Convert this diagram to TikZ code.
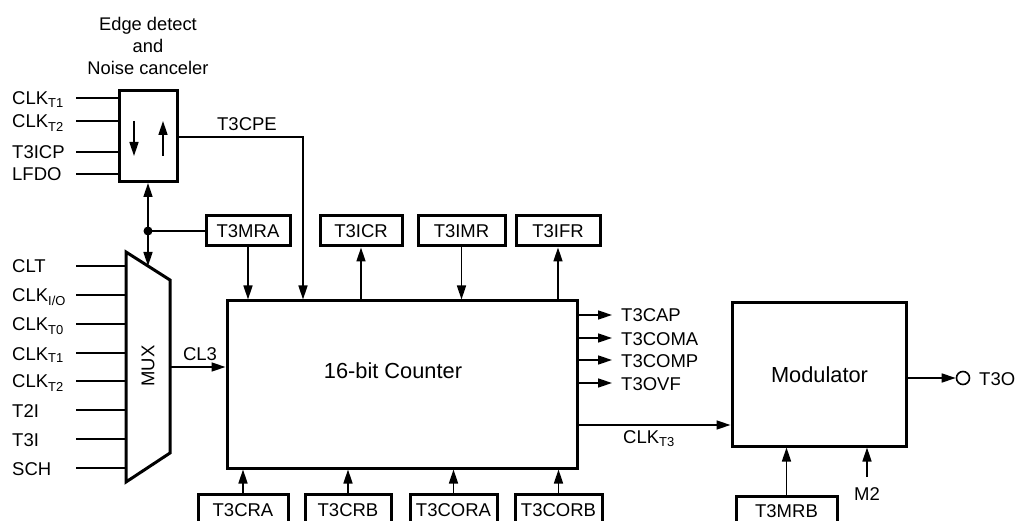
\documentclass[tikz,border=0pt]{standalone}
\usepackage{fontspec}
\setmainfont{Liberation Sans}
\usetikzlibrary{arrows.meta,calc}
\begin{document}
\begin{tikzpicture}[x=1pt,y=-1pt,
  font=\fontsize{18.5}{22}\selectfont,
  bigfont/.style={font=\fontsize{21.8}{26}\selectfont},
  box/.style={draw,line width=3pt,inner sep=0pt,minimum width=#1},
  reg/.style={box=#1,minimum height=30pt},
  conn/.style={line width=1.6pt},
  arr/.style={conn,-{Triangle[length=14pt,width=9pt]}},
  darr/.style={conn,{Triangle[length=14pt,width=9pt]}-{Triangle[length=14pt,width=9pt]}},
  lab/.style={inner sep=0pt,anchor=base west},
  clab/.style={inner sep=0pt,anchor=base}]
\clip (0,0) rectangle (1015,521);
\fill[white] (0,0) rectangle (1015,521);

% Edge detect block
\node[align=center,inner sep=0pt,font=\fontsize{18.3}{22}\selectfont] (title) at (148,46) {Edge detect\\and\\Noise canceler};
\node[box=58pt,minimum height=91pt] (edge) at (148,136) {};
\draw[arr] (134,121) -- (134,156);
\draw[arr] (163,156) -- (163,121);
\foreach \y/\t [count=\i] in {98/CLK\textsubscript{T1},121/CLK\textsubscript{T2},152/T3ICP,174/LFDO}{
  \coordinate (ein\i) at (76,\y);
  \node[lab] (elab\i) at (12,\y+7) {\t};
  \draw[conn] (ein\i) -- (ein\i -| edge.west);
}

% MUX
\coordinate (mtl) at (126,252);
\coordinate (mtr) at (170,280);
\coordinate (mbr) at (170,453);
\coordinate (mbl) at (126,482);
\draw[line width=3pt,line join=miter] (mtl) -- (mtr) -- (mbr) -- (mbl) -- cycle;
\node[rotate=90,inner sep=0pt] (muxlab) at (148,366) {MUX};
\coordinate (muxtop) at (148,266);
\coordinate (muxout) at (170,367);
\foreach \y/\t [count=\i] in {266/CLT,295/CLK\textsubscript{I/O},324/CLK\textsubscript{T0},353/CLK\textsubscript{T1},381/CLK\textsubscript{T2},410/T2I,439/T3I,468/SCH}{
  \coordinate (min\i) at (76,\y);
  \node[lab] (mlab\i) at (12,\y+7) {\t};
  \draw[conn] (min\i) -- (126,\y);
}

% Counter
\node[box=350pt,minimum height=167pt] (cnt) at (402,384.5) {};
\node[bigfont,inner sep=0pt] (cntlab) at (393,371) {16-bit Counter};

% top registers
\node[reg=84pt] (t3mra) at (248,231) {T3MRA};
\node[reg=82pt] (t3icr) at (361,231) {T3ICR};
\node[reg=87pt] (t3imr) at (461.5,231) {T3IMR};
\node[reg=84pt] (t3ifr) at (558,231) {T3IFR};
\draw[arr] (t3mra.south) -- (t3mra.south |- cnt.north);
\draw[arr] (t3icr.south |- cnt.north) -- (t3icr.south);
\draw[arr] (t3imr.south) -- (t3imr.south |- cnt.north);
\draw[arr] (t3ifr.south |- cnt.north) -- (t3ifr.south);

% double arrow, dot
\coordinate (dot) at (148,231);
\draw[darr] (edge.south) -- (muxtop);
\fill (dot) circle (4.5pt);
\draw[conn] (dot) -- (t3mra.west);

% T3CPE
\coordinate (cpe) at (303,137);
\draw[arr] (edge.east |- cpe) -- (cpe) -- (cpe |- cnt.north);
\node[clab] (cpelab) at (247,131) {T3CPE};

% CL3
\draw[arr] (muxout) -- (muxout -| cnt.west);
\node[clab] (cl3) at (200,360) {CL3};

% outputs
\foreach \y/\t [count=\i] in {315/T3CAP,338/T3COMA,360/T3COMP,383/T3OVF}{
  \coordinate (oend\i) at (612,\y);
  \draw[arr] (oend\i -| cnt.east) -- (oend\i);
  \node[lab] (olab\i) at (621,\y+7) {\t};
}

% Modulator
\node[box=174pt,minimum height=143pt] (mod) at (819,374.5) {};
\node[bigfont,inner sep=0pt] (modlab) at (819.5,375) {Modulator};
\coordinate (clk3) at (578,425);
\draw[arr] (clk3 -| cnt.east) -- (clk3 -| mod.west);
\node[lab] (clk3lab) at (623,443) {CLK\textsubscript{T3}};

% output T3O
\node[draw,circle,line width=1.6pt,minimum size=13pt,inner sep=0pt] (pin) at (963,378) {};
\draw[arr] (mod.east |- pin) -- (pin.west);
\node[lab] (t3o) at (979,385) {T3O};

% bottom registers
\node[box=90pt,minimum height=34pt] (t3cra) at (243,511) {};
\node[box=86pt,minimum height=34pt] (t3crb) at (348,511) {};
\node[box=87pt,minimum height=34pt] (t3cora) at (453.5,511) {};
\node[box=87pt,minimum height=34pt] (t3corb) at (558.5,511) {};
\node[box=101pt,minimum height=34pt] (t3mrb) at (786.5,513) {};
\node[clab] (l1) at (243,516) {T3CRA};
\node[clab] (l2) at (348,516) {T3CRB};
\node[clab] (l3) at (453.5,516) {T3CORA};
\node[clab] (l4) at (558.5,516) {T3CORB};
\node[clab] (l5) at (786.5,517) {T3MRB};
\draw[arr] (t3cra.north) -- (t3cra.north |- cnt.south);
\draw[arr] (t3crb.north) -- (t3crb.north |- cnt.south);
\draw[arr] (t3cora.north) -- (t3cora.north |- cnt.south);
\draw[arr] (t3corb.north) -- (t3corb.north |- cnt.south);
\draw[arr] (t3mrb.north) -- (t3mrb.north |- mod.south);

% M2
\coordinate (m2) at (867,477);
\draw[arr] (m2) -- (m2 |- mod.south);
\node[clab] (m2lab) at (867,500) {M2};
\end{tikzpicture}
\end{document}
